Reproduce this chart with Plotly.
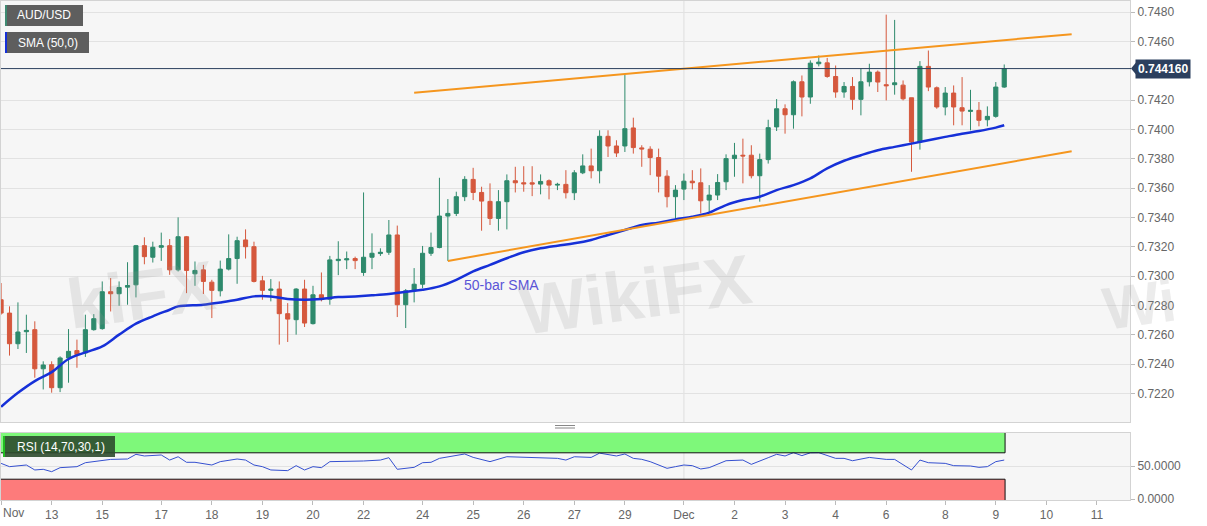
import plotly.graph_objects as go

# ---------------- data (4H AUD/USD bars, bar index 0..119) ----------------
bars = list(range(120))
open_ = [0.72839,0.72748,0.72539,0.72621,0.72635,0.72368,0.72396,0.72239,0.72442,0.72492,
         0.72476,0.72635,0.72642,0.72894,0.72880,0.72925,0.72941,0.73208,0.73129,0.73197,
         0.73208,0.73043,0.73269,0.73016,0.73043,0.72959,0.72900,0.73048,0.73120,0.73247,
         0.73201,0.72968,0.72903,0.72912,0.72744,0.72703,0.72912,0.72676,0.72873,0.72843,
         0.73106,0.73111,0.73120,0.73025,0.73129,0.73154,0.73163,0.73281,0.72805,0.72900,
         0.72945,0.73156,0.73195,0.73410,0.73428,0.73542,0.73660,0.73571,0.73510,0.73394,
         0.73508,0.73651,0.73637,0.73637,0.73628,0.73651,0.73621,0.73626,0.73569,0.73705,
         0.73752,0.73719,0.73954,0.73888,0.73888,0.74011,0.73875,0.73866,0.73809,0.73682,
         0.73542,0.73594,0.73648,0.73637,0.73519,0.73553,0.73644,0.73802,0.73825,0.73825,
         0.73685,0.73795,0.74018,0.74142,0.74101,0.74326,0.74222,0.74449,0.74455,0.74362,
         0.74256,0.74294,0.74206,0.74326,0.74392,0.74306,0.74306,0.74303,0.74217,0.73915,
         0.74431,0.74285,0.74154,0.74249,0.74149,0.74124,0.74131,0.74067,0.74090,0.74290]
high = [0.72953,0.72794,0.72821,0.72737,0.72692,0.72419,0.72419,0.72453,0.72639,0.72567,
        0.72737,0.72741,0.72964,0.72987,0.72964,0.73095,0.73213,0.73265,0.73235,0.73297,
        0.73253,0.73401,0.73274,0.73100,0.73077,0.72975,0.73106,0.73285,0.73269,0.73319,
        0.73235,0.73002,0.72980,0.72964,0.72816,0.72918,0.72975,0.72934,0.73025,0.73138,
        0.73238,0.73168,0.73133,0.73571,0.73292,0.73190,0.73383,0.73345,0.72912,0.73055,
        0.73206,0.73297,0.73671,0.73526,0.73576,0.73682,0.73739,0.73610,0.73633,0.73587,
        0.73694,0.73746,0.73750,0.73750,0.73694,0.73660,0.73637,0.73723,0.73723,0.73831,
        0.73870,0.73995,0.73995,0.73927,0.74376,0.74081,0.73893,0.73886,0.73870,0.73723,
        0.73621,0.73700,0.73723,0.73735,0.73621,0.73696,0.73831,0.73909,0.73938,0.73893,
        0.73836,0.74067,0.74208,0.74172,0.74335,0.74369,0.74472,0.74505,0.74489,0.74437,
        0.74324,0.74358,0.74415,0.74449,0.74403,0.74784,0.74748,0.74335,0.74217,0.74467,
        0.74539,0.74294,0.74290,0.74301,0.74358,0.74271,0.74188,0.74158,0.74324,0.74444]
low = [0.72737,0.72458,0.72503,0.72476,0.72307,0.72227,0.72205,0.72209,0.72273,0.72375,
       0.72449,0.72628,0.72635,0.72759,0.72798,0.72805,0.72855,0.73081,0.73093,0.73104,
       0.73009,0.73032,0.72884,0.72934,0.72878,0.72714,0.72862,0.73039,0.72948,0.73120,
       0.72957,0.72839,0.72828,0.72533,0.72551,0.72601,0.72653,0.72670,0.72828,0.72805,
       0.73007,0.73048,0.73048,0.73002,0.73048,0.73138,0.73145,0.72721,0.72646,0.72821,
       0.72918,0.73138,0.73190,0.73104,0.73410,0.73512,0.73519,0.73310,0.73349,0.73310,
       0.73319,0.73571,0.73576,0.73546,0.73558,0.73524,0.73587,0.73530,0.73519,0.73696,
       0.73667,0.73633,0.73813,0.73813,0.73847,0.73836,0.73746,0.73689,0.73571,0.73469,
       0.73385,0.73519,0.73592,0.73428,0.73439,0.73519,0.73587,0.73678,0.73633,0.73667,
       0.73508,0.73768,0.73990,0.73972,0.74006,0.74090,0.74176,0.74431,0.74353,0.74217,
       0.74217,0.74135,0.74097,0.74294,0.74256,0.74199,0.74238,0.74199,0.73712,0.73863,
       0.74262,0.74142,0.74097,0.74029,0.74029,0.73995,0.74022,0.74022,0.74081,0.74285]
close = [0.72748,0.72539,0.72619,0.72630,0.72368,0.72394,0.72239,0.72442,0.72487,0.72465,
         0.72635,0.72710,0.72894,0.72880,0.72923,0.72936,0.73208,0.73133,0.73197,0.73208,
         0.73043,0.73269,0.73039,0.73039,0.72964,0.72903,0.73048,0.73120,0.73242,0.73201,
         0.72964,0.72903,0.72912,0.72744,0.72707,0.72912,0.72680,0.72873,0.72843,0.73111,
         0.73115,0.73118,0.73106,0.73129,0.73156,0.73163,0.73281,0.72805,0.72900,0.72945,
         0.73156,0.73195,0.73410,0.73428,0.73542,0.73660,0.73571,0.73512,0.73394,0.73508,
         0.73651,0.73637,0.73630,0.73628,0.73646,0.73621,0.73626,0.73569,0.73705,0.73752,
         0.73719,0.73954,0.73888,0.73840,0.74006,0.73877,0.73868,0.73809,0.73682,0.73542,
         0.73587,0.73648,0.73637,0.73514,0.73553,0.73639,0.73802,0.73825,0.73820,0.73685,
         0.73795,0.74013,0.74142,0.74101,0.74326,0.74222,0.74453,0.74460,0.74362,0.74256,
         0.74294,0.74206,0.74326,0.74392,0.74324,0.74299,0.74319,0.74210,0.73915,0.74431,
         0.74290,0.74154,0.74249,0.74154,0.74126,0.74131,0.74063,0.74090,0.74290,0.74416]

sma_bar = [0,2,4,6,8,10,12,14,16,18,20,21,24,26,28,30,32,34,36,38,40,42,44,46,48,50,52,54,56,58,
           60,62,64,66,68,70,72,74,76,78,80,82,84,86,88,90,92,94,96,98,100,102,104,106,108,110,
           112,114,116,118,119]
sma_val = [0.72109,0.72204,0.72284,0.72345,0.72435,0.72480,0.72521,0.72601,0.72676,0.72726,
           0.72771,0.72794,0.72805,0.72821,0.72839,0.72862,0.72862,0.72844,0.72839,0.72844,
           0.72857,0.72862,0.72869,0.72878,0.72894,0.72907,0.72930,0.72975,0.73032,0.73077,
           0.73122,0.73163,0.73190,0.73208,0.73224,0.73247,0.73281,0.73315,0.73349,0.73365,
           0.73387,0.73405,0.73433,0.73485,0.73519,0.73542,0.73587,0.73621,0.73667,0.73735,
           0.73787,0.73825,0.73859,0.73882,0.73904,0.73927,0.73950,0.73972,0.73990,0.74013,0.74029]

rsi_bar = [0,1,3,4,5,6,7,9,10,12,13,15,16,17,19,20,21,22,23,25,26,28,29,30,31,32,34,35,36,37,
           38,39,41,43,45,46,47,49,50,51,52,55,56,58,60,62,64,66,67,68,70,71,73,74,75,76,77,79,
           80,81,82,83,84,86,88,89,91,92,93,94,95,96,97,99,100,101,103,105,106,108,109,110,112,
           113,115,116,117,118,119]
rsi_val = [54,49,51.5,44,45,41.4,47.5,49,55,59,60,60.6,67.7,65.2,66.7,59,64,55.6,55.6,51.5,
           56.6,60.6,59,51.5,49,44,43,50.5,44,49,47.5,56.6,56.6,57.6,59,62.6,45,48,55,55.6,
           61.6,68.2,63.1,56.6,64.1,63.1,62.6,61.6,59,64,63,69.5,65.2,68.2,61.6,60.1,56.6,46.5,
           49,51.5,50.5,45.5,47.5,58,59,52.5,62.6,67.7,65.2,70.2,65.7,70,70.2,61.6,61.6,58,63,
           60,60,44,59,55,54,50.5,50,48,49,56.6,59]

upper_trend_bar = [49, 127]
upper_trend_val = [0.74251, 0.74651]
lower_trend_bar = [53, 127]
lower_trend_val = [0.73104, 0.73852]

last_price = 0.74416
price_ticks = [0.7220,0.7240,0.7260,0.7280,0.7300,0.7320,0.7340,0.7360,0.7380,0.7400,
               0.7420,0.7460,0.7480]
x_tick_bar = [0,6,12,19,25,31,37,43,50,56,62,68,74,81,87,93,99,105,112,118,124,130]
x_tick_text = ["Nov","13","15","17","18","19","20","22","24","25","26","27","29","Dec",
               "2","3","4","6","8","9","10","11"]
month_start_bar = [81]

# ---------------- layout helpers ----------------
W, H = 1207, 526
LM, RM, TM, BM = 1, 77, 1, 26
PW, PH = W - LM - RM, H - TM - BM
def px(x):
    return (x - LM) / PW
def py(y):
    return (H - BM - y) / PH

GREEN = "#2e8a6c"
RED = "#d5583d"
FONT = "Arial, Liberation Sans, sans-serif"

fig = go.Figure()
fig.add_trace(go.Candlestick(
    x=bars, open=open_, high=high, low=low, close=close,
    increasing=dict(line=dict(color=GREEN, width=1), fillcolor=GREEN),
    decreasing=dict(line=dict(color=RED, width=1), fillcolor=RED),
    whiskerwidth=0, xaxis="x", yaxis="y", showlegend=False, hoverinfo="skip"))
fig.add_trace(go.Scatter(x=sma_bar, y=sma_val, mode="lines",
                         line=dict(color="#1630d8", width=2.5, shape="spline"),
                         xaxis="x", yaxis="y", showlegend=False, hoverinfo="skip"))
fig.add_trace(go.Scatter(x=upper_trend_bar, y=upper_trend_val, mode="lines",
                         line=dict(color="#f5961e", width=2), xaxis="x", yaxis="y",
                         showlegend=False, hoverinfo="skip"))
fig.add_trace(go.Scatter(x=lower_trend_bar, y=lower_trend_val, mode="lines",
                         line=dict(color="#f5961e", width=2), xaxis="x", yaxis="y",
                         showlegend=False, hoverinfo="skip"))
fig.add_trace(go.Scatter(x=rsi_bar, y=rsi_val, mode="lines",
                         line=dict(color="#3550d0", width=1), xaxis="x2", yaxis="y2",
                         showlegend=False, hoverinfo="skip"))

main_dom = [py(422.3), 1.0]
rsi_dom = [0.0, py(433)]
xr = [-0.01, 133.92]

shapes = []
# RSI zones
band_end = 119.1
shapes.append(dict(type="rect", xref="x2", yref="y2", x0=xr[0], x1=band_end, y0=70, y1=100,
                   fillcolor="#7ef87a", line=dict(width=0), layer="below"))
shapes.append(dict(type="rect", xref="x2", yref="y2", x0=xr[0], x1=band_end, y0=-1.5, y1=30,
                   fillcolor="#fd7b7b", line=dict(width=0), layer="below"))
for yv in (70, 30):
    shapes.append(dict(type="line", xref="x2", yref="y2", x0=xr[0], x1=band_end, y0=yv, y1=yv,
                       line=dict(color="#111", width=1)))
shapes.append(dict(type="line", xref="x2", yref="y2", x0=band_end, x1=band_end, y0=70, y1=100,
                   line=dict(color="#111", width=1)))
shapes.append(dict(type="line", xref="x2", yref="y2", x0=band_end, x1=band_end, y0=-1.5, y1=30,
                   line=dict(color="#111", width=1)))
# month gridlines
for b in month_start_bar:
    shapes.append(dict(type="line", xref="x", yref="paper", x0=b, x1=b, y0=main_dom[0], y1=1,
                       line=dict(color="#dedede", width=1), layer="below"))
    shapes.append(dict(type="line", xref="x2", yref="paper", x0=b, x1=b, y0=0, y1=rsi_dom[1],
                       line=dict(color="#dedede", width=1), layer="below"))
# last price line
shapes.append(dict(type="line", xref="paper", yref="y", x0=0, x1=px(1131), y0=last_price,
                   y1=last_price, line=dict(color="#2b3f5e", width=1)))
shapes.append(dict(type="path", xref="paper", yref="y", xsizemode="pixel", ysizemode="pixel",
                   xanchor=px(1131), yanchor=last_price, path="M 0 0 L 5 6 L 5 -6 Z",
                   fillcolor="#2b3f5e", line=dict(width=0)))
# top-left label boxes
def label_box(x0, x1, y0, y1, fill, edge):
    shapes.append(dict(type="rect", xref="paper", yref="paper", x0=px(x0), x1=px(x1),
                       y0=py(y1), y1=py(y0), fillcolor=fill, line=dict(width=0)))
    shapes.append(dict(type="rect", xref="paper", yref="paper", x0=px(x0), x1=px(x0 + 2),
                       y0=py(y1), y1=py(y0), fillcolor=edge, line=dict(width=0)))
label_box(5, 83, 5, 26, "#5e5e5e", "#3f8a72")
label_box(5, 89, 32, 53, "#5e5e5e", "#1630d8")
label_box(3, 115, 436, 457, "rgba(45,75,45,0.9)", "#22bb22")
# panel separator handle
for yy in (425.5, 428):
    shapes.append(dict(type="line", xref="paper", yref="paper", x0=px(555), x1=px(575),
                       y0=py(yy), y1=py(yy), line=dict(color="#888", width=1)))

WM = "rgba(150,150,150,0.18)"
annotations = [
    dict(xref="paper", yref="paper", x=px(15), y=py(15.5), text="AUD/USD", showarrow=False,
         xanchor="left", yanchor="middle", font=dict(color="white", size=12, family=FONT)),
    dict(xref="paper", yref="paper", x=px(16), y=py(42.5), text="SMA (50,0)", showarrow=False,
         xanchor="left", yanchor="middle", font=dict(color="white", size=12, family=FONT)),
    dict(xref="paper", yref="paper", x=px(15), y=py(446.5), text="RSI (14,70,30,1)",
         showarrow=False, xanchor="left", yanchor="middle",
         font=dict(color="white", size=12, family=FONT)),
    dict(xref="x", yref="y", x=59.4, y=0.7294, text="50-bar SMA", showarrow=False,
         font=dict(color="#5b55d6", size=14, family=FONT)),
    dict(xref="paper", yref="y", x=px(1135), y=last_price, text="<b>0.744160</b>",
         showarrow=False, xanchor="left", yanchor="middle", bgcolor="#2b3f5e",
         borderpad=2, font=dict(color="white", size=12, family=FONT)),
    dict(xref="paper", yref="paper", x=0, y=py(513), text="Nov", showarrow=False,
         xanchor="left", yanchor="middle", font=dict(color="#666", size=12, family=FONT)),
    # faint watermarks
    dict(xref="paper", yref="paper", x=px(635), y=py(295), text="<b>WikiFX</b>",
         showarrow=False, textangle=-8, font=dict(color=WM, size=70, family=FONT)),
    dict(xref="paper", yref="paper", x=px(60), y=py(295), text="<b>kiFX</b>",
         showarrow=False, textangle=-8, font=dict(color=WM, size=70, family=FONT)),
    dict(xref="paper", yref="paper", x=px(1183), y=py(305), text="<b>Wi</b>",
         showarrow=False, textangle=-8, font=dict(color=WM, size=60, family=FONT)),
]

axis_line = dict(showline=True, linecolor="#d3d3d3", linewidth=1, mirror=True, zeroline=False)
fig.update_layout(
    width=W, height=H, margin=dict(l=LM, r=RM, t=TM, b=BM, autoexpand=False),
    paper_bgcolor="white", plot_bgcolor="#f6f6f6",
    font=dict(family=FONT, size=12, color="#666"),
    showlegend=False,
    xaxis=dict(domain=[0, 1], anchor="y", range=xr, showticklabels=False, ticks="",
               showgrid=False, rangeslider=dict(visible=False), **axis_line),
    xaxis2=dict(domain=[0, 1], anchor="y2", matches="x", range=xr, tickmode="array",
                tickvals=x_tick_bar, ticktext=[""] + x_tick_text[1:], ticks="outside",
                ticklen=4, tickcolor="#bbb", showgrid=False,
                tickfont=dict(size=12, color="#666"), **axis_line),
    yaxis=dict(domain=main_dom, anchor="x", side="right", range=[0.72003, 0.74877],
               tickmode="array", tickvals=price_ticks, tickformat=".4f", ticks="outside",
               ticklen=4, tickcolor="#bbb", gridcolor="#e2e2e2", tickfont=dict(size=12, color="#666"),
               **axis_line),
    yaxis2=dict(domain=rsi_dom, anchor="x2", side="right", range=[-1.5, 100],
                tickmode="array", tickvals=[0, 50], ticktext=["0.0000", "50.0000"],
                ticks="outside", ticklen=4, tickcolor="#bbb", gridcolor="#e2e2e2",
                tickfont=dict(size=12, color="#666"), **axis_line),
    shapes=shapes, annotations=annotations,
)

fig.write_html("out.html", config={"displayModeBar": False},
               post_script="document.body.style.margin='0';document.body.style.padding='0';"
                           "document.body.style.overflow='hidden';")
